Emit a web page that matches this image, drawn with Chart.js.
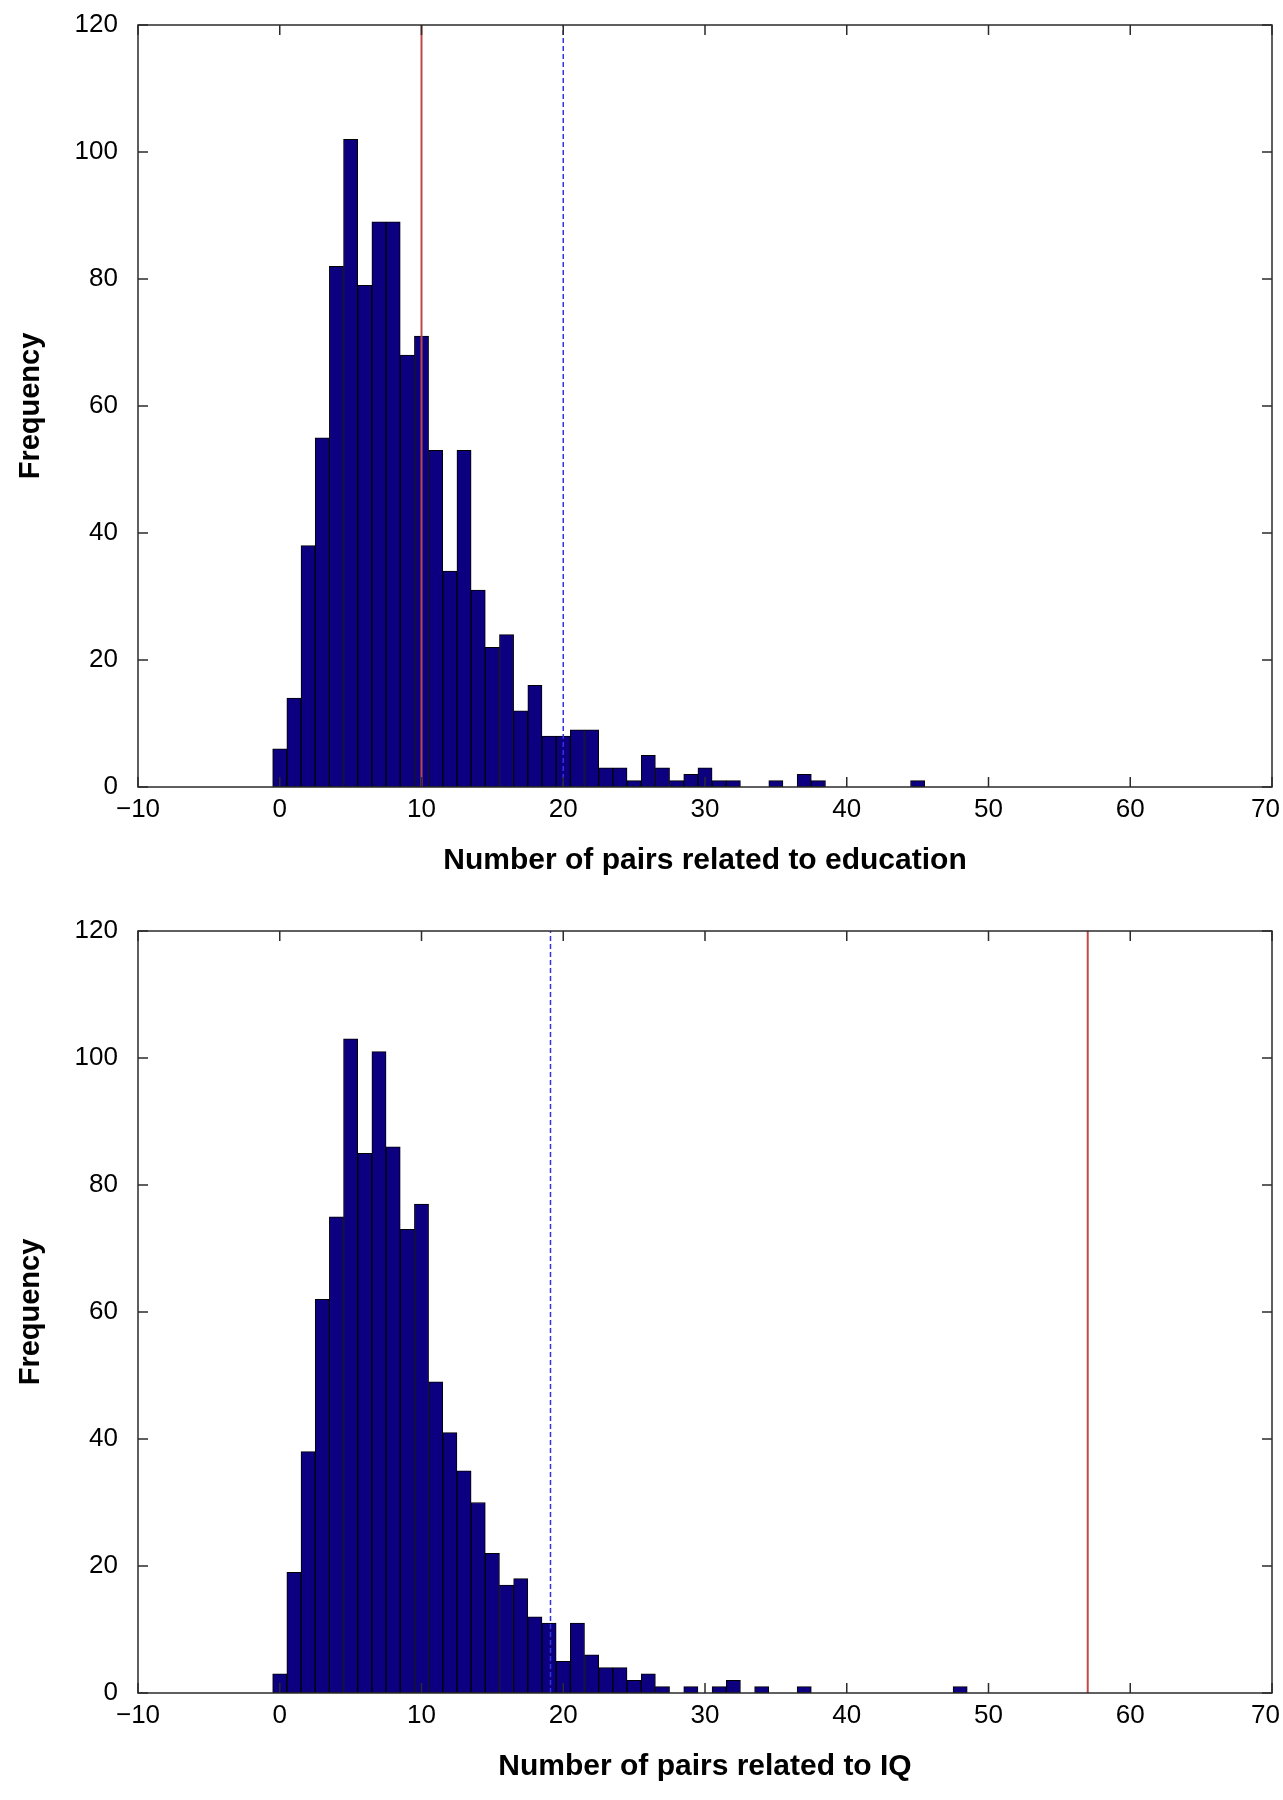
<!DOCTYPE html>
<html>
<head>
<meta charset="utf-8">
<script src="https://cdn.jsdelivr.net/npm/chart.js"></script>
<style>
  html, body { margin: 0; padding: 0; background: #fff; }
  .panel { width: 1283px; height: 900px; }
  canvas { display: block; }
</style>
</head>
<body>
<div class="panel"><canvas id="eduChart" width="1283" height="900"></canvas></div>
<div class="panel"><canvas id="iqChart" width="1283" height="900"></canvas></div>
<script>
// Histogram counts, bin i is centred on i pairs
const eduCounts = [6, 14, 38, 55, 82, 102, 79, 89, 89, 68, 71, 53, 34, 53, 31, 22, 24, 12, 16, 8,
                   8, 9, 9, 3, 3, 1, 5, 3, 1, 2, 3, 1, 1, 0, 0, 1, 0, 2, 1, 0,
                   0, 0, 0, 0, 0, 1];
const iqCounts = [3, 19, 38, 62, 75, 103, 85, 101, 86, 73, 77, 49, 41, 35, 30, 22, 17, 18, 12, 11,
                  5, 11, 6, 4, 4, 2, 3, 1, 0, 1, 0, 1, 2, 0, 1, 0, 0, 1, 0, 0,
                  0, 0, 0, 0, 0, 0, 0, 0, 1];

// Vertical markers: [observed value (solid red), threshold (dashed blue)]
const eduMarkers = [10, 20];
const iqMarkers = [57, 19.1];

const xTicks = [-10, 0, 10, 20, 30, 40, 50, 60, 70];
const yTicks = [0, 20, 40, 60, 80, 100, 120];

const eduTitle = 'Number of pairs related to education';
const iqTitle = 'Number of pairs related to IQ';
const yTitle = 'Frequency';

const FONT = "'Liberation Sans', Arial, sans-serif";
const BAR_COLOR = '#0d0080';
const RED = '#be4a47';
const BLUE = '#3333e6';

// Box around the plot with inward ticks on all four sides (matlab style)
const framePlugin = {
    id: 'frame',
    afterDatasetsDraw(chart) {
        const { ctx, chartArea: a, scales: { x, y } } = chart;
        const len = 10;
        ctx.save();
        ctx.strokeStyle = '#2b2b2b';
        ctx.lineWidth = 1.5;
        ctx.strokeRect(a.left, a.top, a.right - a.left, a.bottom - a.top);
        ctx.beginPath();
        x.ticks.forEach(t => {
            const px = x.getPixelForValue(t.value);
            ctx.moveTo(px, a.bottom); ctx.lineTo(px, a.bottom - len);
            ctx.moveTo(px, a.top); ctx.lineTo(px, a.top + len);
        });
        y.ticks.forEach(t => {
            const py = y.getPixelForValue(t.value);
            ctx.moveTo(a.left, py); ctx.lineTo(a.left + len, py);
            ctx.moveTo(a.right, py); ctx.lineTo(a.right - len, py);
        });
        ctx.stroke();
        ctx.restore();
    }
};

function markerLine(value, color, dash) {
    return {
        type: 'line',
        data: [{ x: value, y: 0 }, { x: value, y: 120 }],
        borderColor: color,
        borderWidth: dash ? 1.5 : 2,
        borderDash: dash || [],
        pointRadius: 0,
        fill: false,
        order: 1
    };
}

function xLabel(v) {
    const s = String(v).replace('-', '\u2212');
    // last label is nudged in so it stays on the page
    return v === xTicks[xTicks.length - 1] ? s + '\u2002' : s;
}

function makeHistogram(id, counts, markers, xTitle, box) {
    const ctx = document.getElementById(id).getContext('2d');
    return new Chart(ctx, {
        type: 'bar',
        data: {
            datasets: [
                markerLine(markers[0], RED, null),
                markerLine(markers[1], BLUE, [5, 3]),
                {
                    type: 'bar',
                    data: counts.map((c, i) => ({ x: i, y: c })),
                    backgroundColor: BAR_COLOR,
                    borderColor: '#000',
                    borderWidth: 1,
                    borderSkipped: false,
                    barPercentage: 1,
                    categoryPercentage: 1,
                    order: 2
                }
            ]
        },
        options: {
            responsive: false,
            animation: false,
            events: [],
            layout: { autoPadding: false, padding: { top: box.top, right: 11, left: 0, bottom: 0 } },
            plugins: { legend: { display: false }, tooltip: { enabled: false } },
            scales: {
                x: {
                    type: 'linear',
                    min: -10,
                    max: 70,
                    offset: false,
                    grid: { display: false, drawTicks: false },
                    border: { display: false },
                    afterBuildTicks: axis => { axis.ticks = xTicks.map(v => ({ value: v })); },
                    afterFit: axis => {
                        axis.height = box.xHeight;
                        axis.paddingLeft = 0;
                        axis.paddingRight = 0;
                    },
                    ticks: {
                        padding: 7,
                        color: '#000',
                        font: { family: FONT, size: 26 },
                        maxRotation: 0,
                        callback: xLabel
                    },
                    title: {
                        display: true,
                        text: xTitle,
                        color: '#000',
                        font: { family: FONT, size: 30, weight: 'bold' },
                        padding: { top: 0, bottom: box.titlePad }
                    }
                },
                y: {
                    min: 0,
                    max: 120,
                    grid: { display: false, drawTicks: false },
                    border: { display: false },
                    afterBuildTicks: axis => { axis.ticks = yTicks.map(v => ({ value: v })); },
                    afterFit: axis => {
                        axis.width = 138;
                        axis.paddingTop = 0;
                        axis.paddingBottom = 0;
                    },
                    ticks: {
                        padding: 20,
                        color: '#000',
                        font: { family: FONT, size: 26 }
                    },
                    title: {
                        display: true,
                        text: yTitle,
                        color: '#000',
                        font: { family: FONT, size: 29, weight: 'bold' },
                        padding: { top: 14, bottom: 0 }
                    }
                }
            }
        },
        plugins: [framePlugin]
    });
}

makeHistogram('eduChart', eduCounts, eduMarkers, eduTitle, { top: 25, xHeight: 113, titlePad: 21 });
makeHistogram('iqChart', iqCounts, iqMarkers, iqTitle, { top: 31, xHeight: 107, titlePad: 15 });
</script>
</body>
</html>
